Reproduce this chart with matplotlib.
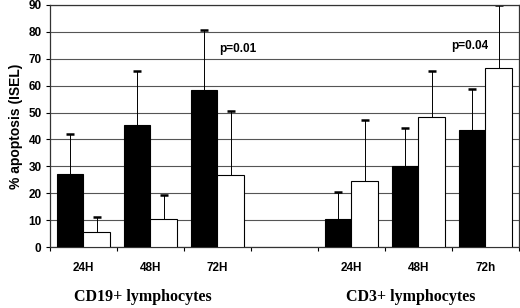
import matplotlib
matplotlib.use('Agg')
import matplotlib.pyplot as plt
import numpy as np

# slots: CD19 24/48/72, empty gap, CD3 24/48/72
tick_labels = ['24H', '48H', '72H', '', '24H', '48H', '72h']
black_vals = [27, 45.5, 58.2, np.nan, 10.4, 30, 43.4]
black_err = [15, 20, 22.5, np.nan, 10, 14.3, 15.3]
white_vals = [5.7, 10.4, 26.6, np.nan, 24.7, 48.3, 66.7]
white_err = [5.5, 9.1, 24, np.nan, 22.5, 17.3, 23.2]
group_labels = ['CD19+ lymphocytes', 'CD3+ lymphocytes']
p_labels = ['p=0.01', 'p=0.04']

sans = 'Liberation Sans'
serif = 'Liberation Serif'

fig = plt.figure(figsize=(5.2, 3.08), dpi=100)
ax = fig.add_axes([0.096, 0.198, 0.902, 0.786])

x = np.arange(len(tick_labels))
w = 0.4
ax.bar(x - w / 2, black_vals, w, color='black', edgecolor='black', linewidth=0.8, zorder=3)
ax.bar(x + w / 2, white_vals, w, color='white', edgecolor='black', linewidth=0.8, zorder=3)
# upper error bars only
for xs, vals, errs in [(x - w / 2, black_vals, black_err), (x + w / 2, white_vals, white_err)]:
    eb = ax.errorbar(xs, vals, yerr=[np.zeros(len(x)), errs], fmt='none',
                     ecolor='black', elinewidth=0.7, capsize=3, capthick=1.8, zorder=2)
    eb[1][0].set_visible(False)

ax.set_xlim(-0.5, 6.5)
ax.set_ylim(0, 90)
ax.set_yticks(np.arange(0, 91, 10))
ax.yaxis.grid(True, color='#555555', linewidth=0.8, zorder=0)
ax.set_axisbelow(True)

ax.set_xticks(x)
ax.set_xticklabels(tick_labels, fontfamily=sans, fontweight='bold', fontsize=8.5)
ax.set_xticks(np.arange(-0.5, 7, 1), minor=True)
ax.tick_params(axis='x', which='major', length=0, pad=11)
ax.tick_params(axis='x', which='minor', length=3, width=0.8, direction='out')
ax.tick_params(axis='y', length=3, width=0.8, pad=3)
for lab in ax.get_yticklabels():
    lab.set_fontfamily(sans)
    lab.set_fontweight('bold')
    lab.set_fontsize(8.5)

for s in ax.spines.values():
    s.set_color('#333333')
    s.set_linewidth(0.9)

ax.set_ylabel('% apoptosis (ISEL)', fontfamily=sans, fontweight='bold', fontsize=10, labelpad=4)

ax.text(2.3, 73.5, p_labels[0], ha='center', va='center', fontfamily=sans,
        fontweight='bold', fontsize=8.5)
ax.text(5.76, 74.8, p_labels[1], ha='center', va='center', fontfamily=sans,
        fontweight='bold', fontsize=8.5)

fig.text(0.275, 0.035, group_labels[0], ha='center', va='center', fontfamily=serif,
         fontweight='bold', fontsize=11.5)
fig.text(0.79, 0.035, group_labels[1], ha='center', va='center', fontfamily=serif,
         fontweight='bold', fontsize=11.5)

fig.savefig('out.png', dpi=100)
